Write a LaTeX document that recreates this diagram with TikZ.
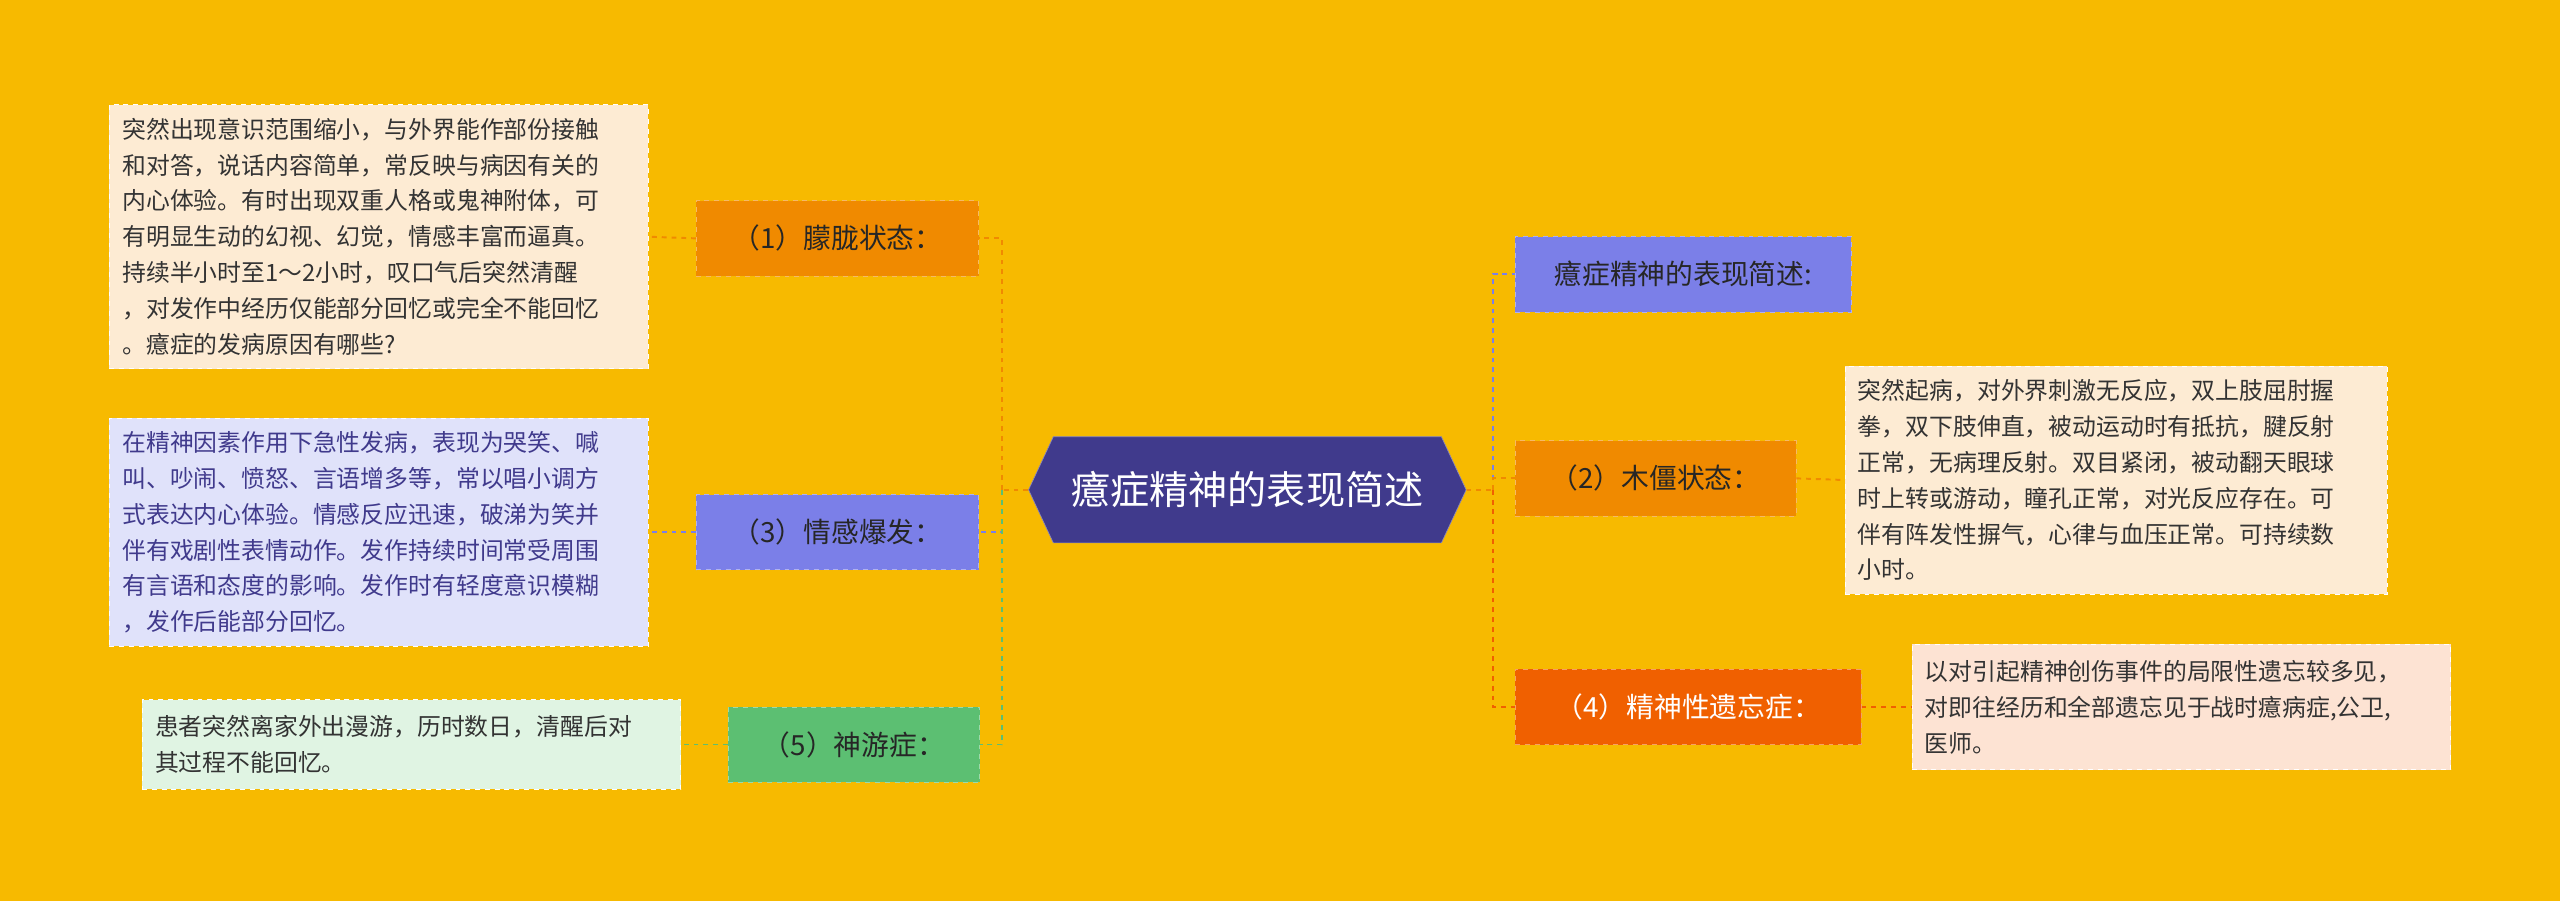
\documentclass[tikz,border=0pt]{standalone}
\usepackage{fontspec}
\setmainfont{Noto Sans CJK SC}
\usetikzlibrary{shapes.geometric,shapes.misc,shapes.symbols}
\definecolor{bg}{RGB}{247,186,0}
\definecolor{cen}{RGB}{64,58,140}
\definecolor{org}{RGB}{240,138,0}
\definecolor{blu}{RGB}{123,127,232}
\definecolor{grn}{RGB}{92,191,114}
\definecolor{red}{RGB}{240,96,0}
\definecolor{peach}{RGB}{253,235,211}
\definecolor{lav}{RGB}{224,226,250}
\definecolor{lgr}{RGB}{224,244,227}
\definecolor{pink}{RGB}{253,227,211}
\begin{document}
\begin{tikzpicture}[x=1pt,y=-1pt,
 lab/.style={draw=#1!60!white,fill=#1,dashed,inner sep=4pt,minimum height=46pt,font=\fontsize{17}{20}\selectfont,text=black!85},
 box/.style={draw=white,fill=#1,dashed,inner sep=8pt,text width=314pt,align=left,font=\fontsize{14.6}{22}\selectfont,text=black!80},
 con/.style={draw=#1,dashed,line width=1.2pt}]
\fill[bg] (0,0) rectangle (1568,552);
\useasboundingbox (0,0) rectangle (1568,552);
\node[fill=cen,draw=cen!60!white,signal,signal to=east and west,signal pointer angle=130,minimum width=268pt,minimum height=65pt,text=white,font=\fontsize{24}{28}\selectfont] (c) at (764,300) {癔症精神的表现简述};
\node[lab=org,minimum width=173pt] (n1) at (513,146) {（1）朦胧状态：};
\node[lab=blu,minimum width=173pt] (n3) at (513,326) {（3）情感爆发：};
\node[lab=grn,minimum width=154pt] (n5) at (523,456) {（5）神游症：};
\node[lab=blu,minimum width=206pt] (r1) at (1031,168) {癔症精神的表现简述:};
\node[lab=org,minimum width=172pt] (n2) at (1014,293) {（2）木僵状态：};
\node[lab=red,minimum width=212pt,text=white] (n4) at (1034,433) {（4）精神性遗忘症：};
\node[box=peach,minimum height=155pt] (b1) at (232,145) {突然出现意识范围缩小，与外界能作部份接触\\和对答，说话内容简单，常反映与病因有关的\\内心体验。有时出现双重人格或鬼神附体，可\\有明显生动的幻视、幻觉，情感丰富而逼真。\\持续半小时至1～2小时，叹口气后突然清醒\\，对发作中经历仅能部分回忆或完全不能回忆\\。癔症的发病原因有哪些?};
\node[box=lav,minimum height=135pt,text=cen] (b3) at (232,326) {在精神因素作用下急性发病，表现为哭笑、喊\\叫、吵闹、愤怒、言语增多等，常以唱小调方\\式表达内心体验。情感反应迅速，破涕为笑并\\伴有戏剧性表情动作。发作持续时间常受周围\\有言语和态度的影响。发作时有轻度意识模糊\\，发作后能部分回忆。};
\node[box=lgr,minimum height=55pt] (b5) at (252,456) {患者突然离家外出漫游，历时数日，清醒后对\\其过程不能回忆。};
\node[box=peach,text width=316pt,minimum height=137pt] (b2) at (1296,294) {突然起病，对外界刺激无反应，双上肢屈肘握\\拳，双下肢伸直，被动运动时有抵抗，腱反射\\正常，无病理反射。双目紧闭，被动翻天眼球\\时上转或游动，瞳孔正常，对光反应存在。可\\伴有阵发性摒气，心律与血压正常。可持续数\\小时。};
\node[box=pink,minimum height=77pt] (b4) at (1336,433) {以对引起精神创伤事件的局限性遗忘较多见，\\对即往经历和全部遗忘见于战时癔病症,公卫,\\医师。};
\draw[con=org] (c.west) -- ++(-16,0) coordinate (lt);
\draw[con=org] (lt) |- (n1.east);
\draw[con=blu] (lt) |- (n3.east);
\draw[con=grn] (lt) |- (n5.east);
\draw[con=org] (c.east) -- ++(16,0) coordinate (rt);
\draw[con=blu] (rt) |- (r1.west);
\draw[con=org] (rt) |- (n2.west);
\draw[con=red] (rt) |- (n4.west);
\draw[con=org] (n1.west) -- (b1.east);
\draw[con=blu] (n3.west) -- (b3.east);
\draw[con=grn] (n5.west) -- (b5.east);
\draw[con=org] (n2.east) -- (b2.west);
\draw[con=red] (n4.east) -- (b4.west);
\end{tikzpicture}
\end{document}
